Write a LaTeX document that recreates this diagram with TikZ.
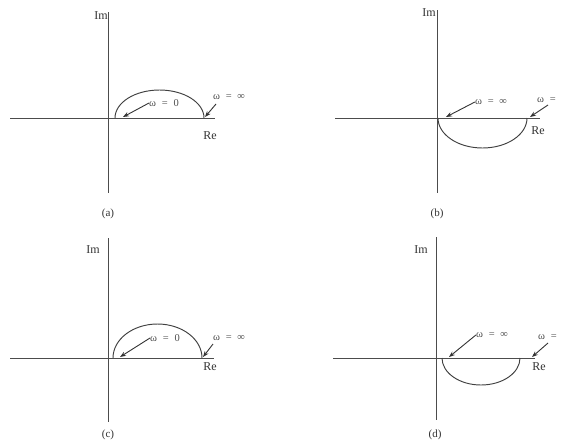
\documentclass[tikz,border=0pt]{standalone}
\usepackage{fontspec}
\setmainfont{Liberation Serif}
\usetikzlibrary{arrows.meta}
\newcommand{\weq}[1]{ω\hspace{0.55em}=\hspace{0.55em}#1}
\newcommand{\weqcut}{ω\hspace{0.55em}=}
\begin{document}
\begin{tikzpicture}[x=1pt,y=-1pt,
  axis/.style={draw=black!70,line width=0.95pt},
  curve/.style={draw=black!75,line width=0.95pt},
  ptr/.style={draw=black!80,line width=0.9pt,-{Stealth[length=6pt,width=4.5pt]}},
  axlab/.style={font=\fontsize{12}{14}\selectfont,inner sep=0pt,text=black!80},
  wlab/.style={font=\fontsize{10.5}{12}\selectfont,inner sep=0pt,text=black!70},
  caplab/.style={font=\fontsize{11}{13}\selectfont,inner sep=0pt,text=black!80}]
\useasboundingbox (0,0) rectangle (561,442);
% ---------- (a)
\coordinate (aT) at (108,12); \coordinate (aB) at (108,193);
\coordinate (aL) at (10,118); \coordinate (aR) at (215,118);
\draw[axis] (aT) -- (aB); \draw[axis] (aL) -- (aR);
\coordinate (aS) at (115,118);
\draw[curve] (aS) arc[start angle=180,end angle=0,x radius=44.5pt,y radius=28pt];
\node[axlab,anchor=east] (aIm) at (108,16) {Im};
\node[axlab] (aRe) at (210,136) {Re};
\node[wlab] (aw0) at (164,103) {\weq{0}};
\node[wlab] (awi) at (229,97) {\weq{∞}};
\coordinate (aw0t) at (123,117); \coordinate (awit) at (205,117);
\coordinate (awis) at (216,104);
\draw[ptr] (aw0.west) -- (aw0t);
\draw[ptr] (awis) -- (awit);
\node[caplab] (acap) at (108,214) {(a)};
% ---------- (b)
\coordinate (bT) at (437,10); \coordinate (bB) at (437,193);
\coordinate (bL) at (335,118); \coordinate (bR) at (540,118);
\draw[axis] (bT) -- (bB); \draw[axis] (bL) -- (bR);
\coordinate (bS) at (438,118);
\draw[curve] (bS) arc[start angle=180,end angle=360,x radius=44.5pt,y radius=30pt];
\node[axlab,anchor=east] (bIm) at (436,13) {Im};
\node[axlab] (bRe) at (538,131) {Re};
\node[wlab] (bwi) at (491,102) {\weq{∞}};
\node[wlab,anchor=west] (bw0) at (537,100) {\weqcut};
\coordinate (bwit) at (446,117); \coordinate (bw0t) at (530,117);
\draw[ptr] (bwi.west) -- (bwit);
\coordinate (bw0s) at (548,105);
\draw[ptr] (bw0s) -- (bw0t);
\node[caplab] (bcap) at (437,214) {(b)};
% ---------- (c)
\coordinate (cT) at (108,238); \coordinate (cB) at (108,422);
\coordinate (cL) at (10,358); \coordinate (cR) at (214,358);
\draw[axis] (cT) -- (cB); \draw[axis] (cL) -- (cR);
\coordinate (cS) at (113,358);
\draw[curve] (cS) arc[start angle=180,end angle=0,x radius=44.5pt,y radius=34pt];
\node[axlab] (cIm) at (93,250) {Im};
\node[axlab] (cRe) at (210,367) {Re};
\node[wlab] (cw0) at (165,338) {\weq{0}};
\node[wlab] (cwi) at (229,338) {\weq{∞}};
\coordinate (cw0t) at (120,357); \coordinate (cwit) at (203,357);
\draw[ptr] (cw0.west) -- (cw0t);
\coordinate (cwis) at (213,344);
\draw[ptr] (cwis) -- (cwit);
\node[caplab] (ccap) at (108,435) {(c)};
% ---------- (d)
\coordinate (dT) at (436,237); \coordinate (dB) at (436,420);
\coordinate (dL) at (333,358); \coordinate (dR) at (535,358);
\draw[axis] (dT) -- (dB); \draw[axis] (dL) -- (dR);
\coordinate (dS) at (442,358);
\draw[curve] (dS) arc[start angle=180,end angle=360,x radius=39pt,y radius=27pt];
\node[axlab] (dIm) at (421,250) {Im};
\node[axlab] (dRe) at (539,367) {Re};
\node[wlab] (dwi) at (492,335) {\weq{∞}};
\node[wlab,anchor=west] (dw0) at (538,337) {\weqcut};
\coordinate (dwit) at (449,357); \coordinate (dw0t) at (532,357);
\draw[ptr] (dwi.west) -- (dwit);
\coordinate (dw0s) at (548,343);
\draw[ptr] (dw0s) -- (dw0t);
\node[caplab] (dcap) at (435,435) {(d)};
\end{tikzpicture}
\end{document}
